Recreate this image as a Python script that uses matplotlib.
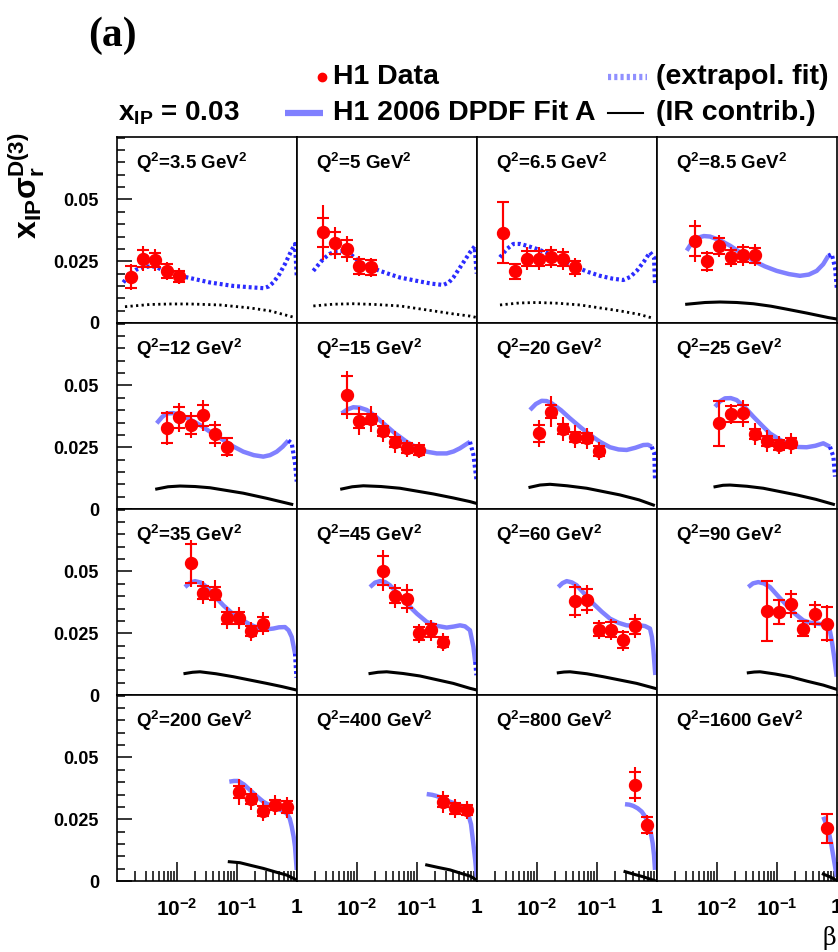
import numpy as np
import matplotlib
matplotlib.use("Agg")
import matplotlib.pyplot as plt
from matplotlib.lines import Line2D
from matplotlib.ticker import FixedLocator, FixedFormatter

plt.rcParams["font.family"] = ["Liberation Sans", "DejaVu Sans"]
plt.rcParams["font.weight"] = "bold"
plt.rcParams["mathtext.fontset"] = "custom"
plt.rcParams["mathtext.rm"] = "Liberation Sans:bold"
plt.rcParams["mathtext.it"] = "Liberation Sans:bold"
plt.rcParams["mathtext.bf"] = "Liberation Sans:bold"
plt.rcParams["mathtext.sf"] = "Liberation Sans:bold"

# ---- data ----
q2_labels = ["3.5", "5", "6.5", "8.5", "12", "15", "20", "25",
             "35", "45", "60", "90", "200", "400", "800", "1600"]

data_beta = [
    [0.0017, 0.0027, 0.0043, 0.0067, 0.0107],
    [0.0027, 0.0043, 0.0067, 0.0107, 0.017],
    [0.0027, 0.0043, 0.0067, 0.0107, 0.017, 0.027, 0.043],
    [0.0043, 0.0067, 0.0107, 0.017, 0.027, 0.043],
    [0.0067, 0.0107, 0.017, 0.027, 0.043, 0.067],
    [0.0067, 0.0107, 0.017, 0.027, 0.043, 0.067, 0.107],
    [0.0107, 0.017, 0.027, 0.043, 0.067, 0.107],
    [0.0107, 0.017, 0.027, 0.043, 0.067, 0.107, 0.17],
    [0.017, 0.027, 0.043, 0.067, 0.107, 0.17, 0.27],
    [0.027, 0.043, 0.067, 0.107, 0.17, 0.27],
    [0.043, 0.067, 0.107, 0.17, 0.27, 0.43],
    [0.067, 0.107, 0.17, 0.27, 0.43, 0.67],
    [0.107, 0.17, 0.27, 0.43, 0.67],
    [0.27, 0.43, 0.67],
    [0.43, 0.67],
    [0.67],
]
data_sig = [
    [0.0187, 0.0261, 0.0255, 0.0211, 0.0190],
    [0.0367, 0.0324, 0.0301, 0.0230, 0.0225],
    [0.0366, 0.0210, 0.0261, 0.0261, 0.0266, 0.0259, 0.0225],
    [0.0331, 0.0249, 0.0312, 0.0268, 0.0276, 0.0274],
    [0.0327, 0.0371, 0.0340, 0.0379, 0.0304, 0.0252],
    [0.0462, 0.0356, 0.0363, 0.0317, 0.0271, 0.0246, 0.0239],
    [0.0306, 0.0394, 0.0324, 0.0293, 0.0286, 0.0235],
    [0.0347, 0.0385, 0.0387, 0.0304, 0.0275, 0.0259, 0.0266],
    [0.0533, 0.0414, 0.0410, 0.0312, 0.0312, 0.0258, 0.0289],
    [0.0504, 0.0402, 0.0390, 0.0249, 0.0262, 0.0215],
    [0.0380, 0.0386, 0.0265, 0.0265, 0.0222, 0.0278],
    [0.0340, 0.0336, 0.0370, 0.0269, 0.0326, 0.0289],
    [0.0359, 0.0332, 0.0282, 0.0308, 0.0298],
    [0.0321, 0.0294, 0.0287],
    [0.0390, 0.0227],
    [0.0213],
]
data_stat = [
    [0.0045, 0.0035, 0.0027, 0.0028, 0.0022],
    [0.0060, 0.0044, 0.0034, 0.0030, 0.0030],
    [0.0125, 0.0030, 0.0031, 0.0030, 0.0030, 0.0030, 0.0026],
    [0.0061, 0.0035, 0.0033, 0.0029, 0.0030, 0.0030],
    [0.0060, 0.0043, 0.0037, 0.0042, 0.0037, 0.0034],
    [0.0077, 0.0030, 0.0020, 0.0020, 0.0020, 0.0020, 0.0020],
    [0.0034, 0.0027, 0.0020, 0.0020, 0.0020, 0.0020],
    [0.0092, 0.0033, 0.0033, 0.0020, 0.0020, 0.0020, 0.0020],
    [0.0080, 0.0026, 0.0027, 0.0024, 0.0024, 0.0020, 0.0028],
    [0.0057, 0.0030, 0.0037, 0.0027, 0.0027, 0.0020],
    [0.0057, 0.0042, 0.0027, 0.0030, 0.0032, 0.0030],
    [0.0120, 0.0048, 0.0040, 0.0029, 0.0039, 0.0066],
    [0.0025, 0.0020, 0.0020, 0.0020, 0.0024],
    [0.0023, 0.0023, 0.0020],
    [0.0052, 0.0031],
    [0.0060],
]
data_tot = [
    [0.0053, 0.0049, 0.0045, 0.0037, 0.0034],
    [0.0110, 0.0065, 0.0053, 0.0040, 0.0039],
    [0.0126, 0.0034, 0.0046, 0.0045, 0.0045, 0.0043, 0.0037],
    [0.0085, 0.0044, 0.0046, 0.0041, 0.0044, 0.0045],
    [0.0069, 0.0060, 0.0054, 0.0062, 0.0051, 0.0040],
    [0.0097, 0.0055, 0.0053, 0.0045, 0.0043, 0.0034, 0.0034],
    [0.0053, 0.0062, 0.0050, 0.0047, 0.0042, 0.0035],
    [0.0092, 0.0040, 0.0054, 0.0044, 0.0044, 0.0038, 0.0042],
    [0.0094, 0.0047, 0.0056, 0.0045, 0.0045, 0.0038, 0.0047],
    [0.0084, 0.0049, 0.0060, 0.0040, 0.0042, 0.0036],
    [0.0069, 0.0058, 0.0037, 0.0043, 0.0042, 0.0049],
    [0.0122, 0.0054, 0.0057, 0.0035, 0.0054, 0.0074],
    [0.0052, 0.0045, 0.0040, 0.0042, 0.0044],
    [0.0044, 0.0037, 0.0037],
    [0.0071, 0.0040],
    [0.0063],
]

# H1 2006 DPDF Fit A, x in log10(beta)
fit_logb = [
    [-2.895, -2.783, -2.68, -2.572, -2.46, -2.355, -2.172, -2.0, -1.838, -1.45, -1.062, -0.8, -0.562, -0.47, -0.395, -0.3, -0.2, -0.1, -0.033, -0.005],
    [-2.728, -2.64, -2.562, -2.46, -2.362, -2.25, -2.15, -2.05, -1.95, -1.78, -1.617, -1.45, -1.283, -0.95, -0.75, -0.562, -0.47, -0.395, -0.228, -0.117, -0.04, -0.005],
    [-2.617, -2.5, -2.395, -2.28, -2.172, -1.98, -1.783, -1.56, -1.338, -1.14, -0.95, -0.75, -0.562, -0.45, -0.338, -0.22, -0.117, -0.05, -0.033],
    [-2.505, -2.42, -2.338, -2.22, -2.117, -1.95, -1.783, -1.59, -1.395, -1.2, -1.005, -0.8, -0.617, -0.47, -0.338, -0.23, -0.145, -0.088, -0.033, -0.003],
    [-2.338, -2.25, -2.172, -2.06, -1.95, -1.78, -1.617, -1.42, -1.228, -1.06, -0.895, -0.72, -0.562, -0.45, -0.338, -0.24, -0.145, -0.088, -0.033, -0.005],
    [-2.255, -2.16, -2.062, -1.95, -1.838, -1.70, -1.562, -1.37, -1.172, -1.0, -0.838, -0.67, -0.505, -0.39, -0.283, -0.117, -0.06, -0.005],
    [-2.117, -2.02, -1.922, -1.84, -1.755, -1.6, -1.45, -1.28, -1.117, -0.95, -0.783, -0.64, -0.505, -0.36, -0.228, -0.15, -0.088, -0.045, -0.033],
    [-2.033, -1.95, -1.867, -1.77, -1.672, -1.53, -1.395, -1.25, -1.117, -0.95, -0.783, -0.64, -0.505, -0.36, -0.228, -0.117, -0.06, -0.033],
    [-1.867, -1.78, -1.7, -1.6, -1.505, -1.37, -1.228, -1.09, -0.95, -0.78, -0.617, -0.5, -0.395, -0.3, -0.2, -0.14, -0.088, -0.033, -0.01],
    [-1.783, -1.70, -1.617, -1.53, -1.45, -1.31, -1.172, -1.0, -0.838, -0.67, -0.505, -0.39, -0.283, -0.2, -0.117, -0.06, -0.03, -0.01],
    [-1.645, -1.575, -1.505, -1.42, -1.338, -1.2, -1.062, -0.92, -0.783, -0.64, -0.505, -0.39, -0.283, -0.2, -0.117, -0.085, -0.06, -0.028],
    [-1.478, -1.4, -1.312, -1.22, -1.117, -0.98, -0.838, -0.7, -0.562, -0.45, -0.338, -0.25, -0.172, -0.12, -0.088, -0.045, -0.005],
    [-1.128, -1.05, -0.978, -0.88, -0.783, -0.67, -0.562, -0.45, -0.338, -0.25, -0.172, -0.12, -0.088, -0.055, -0.033, -0.005],
    [-0.838, -0.75, -0.672, -0.56, -0.45, -0.34, -0.228, -0.18, -0.145, -0.1, -0.062, -0.03, -0.005],
    [-0.533, -0.46, -0.395, -0.32, -0.255, -0.2, -0.145, -0.105, -0.072, -0.05, -0.033],
    [-0.228, -0.19, -0.145, -0.1, -0.06, -0.03, -0.005],
]
fit_y = [
    [0.0164, 0.0198, 0.0216, 0.0225, 0.0229, 0.0228, 0.0205, 0.0194, 0.0185, 0.0164, 0.0150, 0.0145, 0.0141, 0.0148, 0.0164, 0.0195, 0.0239, 0.0290, 0.0320, 0.0191],
    [0.0211, 0.0237, 0.0259, 0.0279, 0.0290, 0.0291, 0.0285, 0.0267, 0.0245, 0.0226, 0.0211, 0.0197, 0.0184, 0.0168, 0.0159, 0.0154, 0.0164, 0.0184, 0.0245, 0.0286, 0.0310, 0.0200],
    [0.0266, 0.0300, 0.0320, 0.0320, 0.0313, 0.0298, 0.0279, 0.0252, 0.0225, 0.0206, 0.0191, 0.0180, 0.0174, 0.0186, 0.0211, 0.0248, 0.0286, 0.0266, 0.0157],
    [0.0293, 0.0325, 0.0344, 0.0352, 0.0350, 0.0335, 0.0313, 0.0282, 0.0252, 0.0229, 0.0211, 0.0198, 0.0191, 0.0196, 0.0211, 0.0238, 0.0272, 0.0279, 0.0225, 0.0140],
    [0.0347, 0.0372, 0.0387, 0.0388, 0.0381, 0.0362, 0.0340, 0.0308, 0.0279, 0.0253, 0.0232, 0.0218, 0.0212, 0.0218, 0.0232, 0.0252, 0.0277, 0.0266, 0.0185, 0.0111],
    [0.0387, 0.0403, 0.0412, 0.0410, 0.0401, 0.0377, 0.0347, 0.0307, 0.0272, 0.0248, 0.0232, 0.0225, 0.0225, 0.0233, 0.0246, 0.0272, 0.0220, 0.0110],
    [0.0401, 0.0425, 0.0438, 0.0437, 0.0428, 0.0400, 0.0367, 0.0332, 0.0300, 0.0272, 0.0250, 0.0241, 0.0239, 0.0248, 0.0259, 0.0260, 0.0252, 0.0225, 0.0117],
    [0.0414, 0.0436, 0.0448, 0.0449, 0.0441, 0.0410, 0.0374, 0.0338, 0.0306, 0.0280, 0.0259, 0.0251, 0.0250, 0.0256, 0.0266, 0.0252, 0.0212, 0.0131],
    [0.0437, 0.0455, 0.0461, 0.0455, 0.0437, 0.0400, 0.0363, 0.0333, 0.0309, 0.0285, 0.0269, 0.0266, 0.0269, 0.0274, 0.0275, 0.0262, 0.0235, 0.0168, 0.0070],
    [0.0437, 0.0455, 0.0461, 0.0457, 0.0444, 0.0408, 0.0370, 0.0329, 0.0296, 0.0280, 0.0273, 0.0277, 0.0282, 0.0278, 0.0262, 0.0195, 0.0134, 0.0080],
    [0.0437, 0.0453, 0.0461, 0.0456, 0.0444, 0.0407, 0.0370, 0.0337, 0.0309, 0.0292, 0.0282, 0.0281, 0.0282, 0.0279, 0.0269, 0.0235, 0.0181, 0.0081],
    [0.0437, 0.0452, 0.0457, 0.0452, 0.0437, 0.0400, 0.0363, 0.0329, 0.0302, 0.0293, 0.0289, 0.0287, 0.0282, 0.0262, 0.0222, 0.0150, 0.0074],
    [0.0402, 0.0405, 0.0405, 0.0390, 0.0368, 0.0343, 0.0321, 0.0306, 0.0294, 0.0285, 0.0274, 0.0252, 0.0220, 0.0178, 0.0139, 0.0045],
    [0.0352, 0.0349, 0.0344, 0.0333, 0.0321, 0.0311, 0.0301, 0.0289, 0.0270, 0.0230, 0.0153, 0.0085, 0.0017],
    [0.0311, 0.0309, 0.0304, 0.0294, 0.0281, 0.0262, 0.0234, 0.0197, 0.0153, 0.0105, 0.0045],
    [0.0260, 0.0236, 0.0206, 0.0155, 0.0098, 0.0055, 0.0017],
]
# log10(beta) from which the fit is drawn as extrapolation (dotted)
fit_extrap_from = [-3.0, -3.0, -3.0, -0.145, -0.145, -0.117, -0.088, -0.117,
                   -0.033, -0.03, None, None, None, None, None, None]

# IR contribution
ir_logb = [
    [-2.867, -2.45, -2.1, -1.783, -1.283, -0.783, -0.45, -0.033],
    [-2.728, -2.4, -2.062, -1.7, -1.283, -0.728, -0.4, -0.117, 0.0],
    [-2.617, -2.3, -2.005, -1.65, -1.283, -0.617, -0.3, -0.06],
    [-2.505, -2.2, -1.95, -1.67, -1.395, -1.1, -0.838, -0.5, -0.145, 0.0],
    [-2.338, -2.15, -1.95, -1.7, -1.45, -0.895, -0.5, -0.088],
    [-2.255, -2.08, -1.895, -1.6, -1.283, -0.728, -0.4, -0.117, 0.0],
    [-2.117, -1.95, -1.783, -1.5, -1.172, -0.617, -0.3, -0.06],
    [-2.033, -1.9, -1.783, -1.5, -1.228, -0.672, -0.35, -0.06],
    [-1.867, -1.74, -1.617, -1.35, -1.062, -0.505, -0.25, -0.005],
    [-1.783, -1.65, -1.505, -1.23, -0.95, -0.395, -0.117, 0.0],
    [-1.645, -1.55, -1.45, -1.17, -0.895, -0.338, -0.033],
    [-1.478, -1.38, -1.283, -1.03, -0.783, -0.5, -0.228, -0.005],
    [-1.128, -0.95, -0.75, -0.562, -0.35, -0.172, -0.005],
    [-0.838, -0.65, -0.45, -0.28, -0.117, -0.005],
    [-0.533, -0.38, -0.228, -0.033],
    [-0.228, -0.1, -0.005],
]
ir_y = [
    [0.0066, 0.0075, 0.0077, 0.0077, 0.0073, 0.0061, 0.0049, 0.0022],
    [0.0069, 0.0076, 0.0078, 0.0075, 0.0069, 0.0049, 0.0037, 0.0028, 0.0022],
    [0.0073, 0.0081, 0.0083, 0.0080, 0.0073, 0.0049, 0.0035, 0.0019],
    [0.0076, 0.0083, 0.0085, 0.0083, 0.0078, 0.0068, 0.0056, 0.0040, 0.0022, 0.0016],
    [0.0081, 0.0090, 0.0093, 0.0091, 0.0086, 0.0064, 0.0043, 0.0019],
    [0.0081, 0.0090, 0.0094, 0.0091, 0.0084, 0.0061, 0.0045, 0.0030, 0.0022],
    [0.0088, 0.0097, 0.0100, 0.0094, 0.0084, 0.0057, 0.0037, 0.0016],
    [0.0090, 0.0096, 0.0097, 0.0092, 0.0084, 0.0057, 0.0039, 0.0019],
    [0.0087, 0.0092, 0.0094, 0.0086, 0.0074, 0.0047, 0.0034, 0.0020],
    [0.0087, 0.0092, 0.0094, 0.0087, 0.0077, 0.0047, 0.0027, 0.0020],
    [0.0090, 0.0093, 0.0094, 0.0086, 0.0074, 0.0047, 0.0027],
    [0.0090, 0.0093, 0.0094, 0.0085, 0.0074, 0.0056, 0.0040, 0.0023],
    [0.0078, 0.0074, 0.0062, 0.0051, 0.0036, 0.0024, 0.0004],
    [0.0065, 0.0055, 0.0045, 0.0032, 0.0020, 0.0004],
    [0.0038, 0.0027, 0.0017, 0.0001],
    [0.0028, 0.0015, 0.0001],
]
ir_dotted = [True, True, True] + [False] * 13

BAND = "#8080ff"
DOTBLUE = "#2b2bff"

W, H = 838, 952
fig, axes = plt.subplots(4, 4, figsize=(W / 100, H / 100), dpi=100, sharex=True, sharey=True)
fig.subplots_adjust(left=117 / W, right=837 / W, top=1 - 137 / H, bottom=1 - 881 / H,
                    wspace=0, hspace=0)

xminor = [m * 10.0 ** e for e in (-3, -2, -1) for m in range(2, 10)]

for i, ax in enumerate(axes.flat):
    row, col = divmod(i, 4)
    ax.set_xscale("log")
    ax.set_xlim(1e-3, 1)
    ax.set_ylim(0, 0.0753)

    # fit curve: solid where constrained, dotted where extrapolated
    lb = np.array(fit_logb[i])
    b = 10.0 ** lb
    y = np.array(fit_y[i])
    if fit_extrap_from[i] is None:
        k = len(b) - 1
    else:
        k = int(np.argmax(lb >= fit_extrap_from[i] - 1e-9))
    if k > 0:
        ax.plot(b[:k + 1], y[:k + 1], color=BAND, lw=3.2, solid_capstyle="butt",
                solid_joinstyle="round", zorder=2)
    if k < len(b) - 1:
        ax.plot(b[k:], y[k:], color=DOTBLUE, lw=3, ls=(0, (0.7, 0.7)), zorder=2)

    # IR contribution
    ib = 10.0 ** np.array(ir_logb[i])
    if ir_dotted[i]:
        ax.plot(ib, ir_y[i], color="black", lw=2, ls=(0, (0.8, 1.2)), zorder=2)
    else:
        ax.plot(ib, ir_y[i], color="black", lw=2.2, solid_joinstyle="round", zorder=2)

    # data: total error as plain bar, statistical error marked by the caps
    ax.errorbar(data_beta[i], data_sig[i], yerr=data_tot[i], fmt="none",
                ecolor="red", elinewidth=1.5, zorder=3)
    ax.errorbar(data_beta[i], data_sig[i], yerr=data_stat[i], fmt="o", color="red",
                ms=8.6, capsize=4.3, capthick=1.5, elinewidth=1.5, zorder=4)

    ax.text(0.105, 0.86, "Q$^{2}$=" + q2_labels[i] + " GeV$^{2}$", transform=ax.transAxes,
            fontsize=13.5, fontweight="bold", ha="left", va="center")

    for s in ax.spines.values():
        s.set_linewidth(1.2)

    ax.xaxis.set_major_locator(FixedLocator([1e-2, 1e-1, 1]))
    ax.xaxis.set_major_formatter(FixedFormatter([r"$\mathbf{10^{-2}}$", r"$\mathbf{10^{-1}}$", r"$\mathbf{1}$"]))
    ax.xaxis.set_minor_locator(FixedLocator(xminor))
    ax.yaxis.set_major_locator(FixedLocator([0, 0.025, 0.05]))
    ax.yaxis.set_major_formatter(FixedFormatter(["0", "0.025", "0.05"]))
    ax.yaxis.set_minor_locator(FixedLocator(np.arange(0.005, 0.0751, 0.005)))

    ax.tick_params(axis="y", which="major", direction="in", length=11, width=1.1,
                   labelsize=13, pad=13, left=(col == 0), right=False, labelleft=(col == 0))
    ax.tick_params(axis="y", which="minor", direction="in", length=5.5, width=1.1,
                   left=(col == 0), right=False)
    ax.tick_params(axis="x", which="major", direction="in", length=14, width=1.1,
                   labelsize=15, pad=12, bottom=(row == 3), top=False, labelbottom=(row == 3))
    ax.tick_params(axis="x", which="minor", direction="in", length=7, width=1.1,
                   bottom=(row == 3), top=False)

# axis titles and panel tag
fig.text(27 / W, 1 - 186 / H, r"$\mathbf{x_{IP}\sigma_r^{D(3)}}$", rotation=90,
         fontsize=23, ha="center", va="center")
fig.text(829 / W, 1 - 938 / H, "β", fontsize=17, family="DejaVu Serif",
         fontweight="normal", ha="center", va="center")
fig.text(88 / W, 1 - 36 / H, "(a)", fontsize=30, family="Liberation Serif",
         fontweight="bold", ha="left", va="center")

# legend
fy1, fy2 = 1 - 77 / H, 1 - 113 / H
fig.add_artist(Line2D([322 / W], [fy1], marker="o", color="red", ms=6, transform=fig.transFigure))
fig.text(333 / W, fy1, "H1 Data", fontsize=20.5, ha="left", va="center")
fig.add_artist(Line2D([608 / W, 647 / W], [fy1, fy1], color="#9090ff", lw=4.5,
                      ls=(0, (0.5, 0.5)), transform=fig.transFigure))
fig.text(656 / W, fy1, "(extrapol. fit)", fontsize=20.5, ha="left", va="center")
fig.text(118 / W, fy2, r"x$_{\mathbf{IP}}$ = 0.03", fontsize=20, ha="left", va="center")
fig.add_artist(Line2D([285 / W, 323 / W], [fy2, fy2], color=BAND, lw=4.5,
                      solid_capstyle="butt", transform=fig.transFigure))
fig.text(333 / W, fy2, "H1 2006 DPDF Fit A", fontsize=20.5, ha="left", va="center")
fig.add_artist(Line2D([608 / W, 643 / W], [fy2, fy2], color="black", lw=1.5,
                      transform=fig.transFigure))
fig.text(656 / W, fy2, "(IR contrib.)", fontsize=20.5, ha="left", va="center")

fig.savefig("out.png", dpi=100)
